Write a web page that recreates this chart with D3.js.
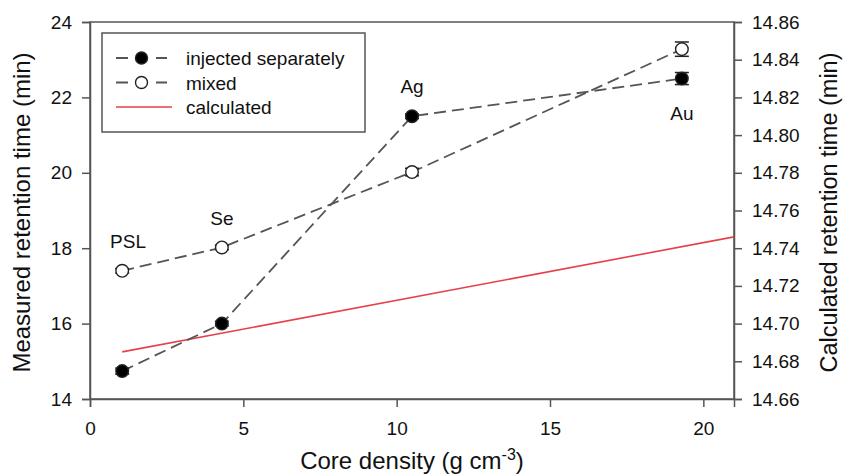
<!DOCTYPE html>
<html><head><meta charset="utf-8">
<script src="https://cdn.jsdelivr.net/npm/d3@7"></script>
<style>body{margin:0;background:#fff}svg{display:block}text{font-family:"Liberation Sans",Arial,sans-serif;fill:#111}</style>
</head><body><svg id="c" width="844" height="475"></svg>
<script>
const densities = [1.05, 4.3, 10.5, 19.3];
const labels = ["PSL", "Se", "Ag", "Au"];
const injected = [14.74, 16.0, 21.5, 22.5];
const injectedErr = [0.08, 0.06, 0.06, 0.16];
const mixed = [17.4, 18.02, 20.02, 23.28];
const mixedErr = [0.06, 0.06, 0.1, 0.19];
const calcX = [1.05, 21];
const calcY = [14.685, 14.746];
const xTicks = [0, 5, 10, 15, 20];
const yTicks = [14, 16, 18, 20, 22, 24];
const y2Ticks = [14.66, 14.68, 14.70, 14.72, 14.74, 14.76, 14.78, 14.80, 14.82, 14.84, 14.86];
const labelX = [1.24, 4.3, 10.5, 19.3];
const labelY = [18.0, 18.62, 22.12, 21.4];

const svg = d3.select("#c");
const L = 90, R = 734, T = 22, B = 399;
const x = d3.scaleLinear().domain([0, 21]).range([L, R]);
const y = d3.scaleLinear().domain([14, 24]).range([B, T]);
const y2 = d3.scaleLinear().domain([14.66, 14.86]).range([B, T]);
const ax = "#555";

// frame
svg.append("rect").attr("x", L).attr("y", T).attr("width", R - L).attr("height", B - T)
  .attr("fill", "none").attr("stroke", ax).attr("stroke-width", 1.5);

const gx = svg.append("g").attr("transform", `translate(0,${B})`)
  .call(d3.axisBottom(x).tickValues(xTicks).tickSize(8).tickPadding(15).tickFormat(d3.format("d")));
const gy = svg.append("g").attr("transform", `translate(${L},0)`)
  .call(d3.axisLeft(y).tickValues(yTicks).tickSize(8).tickPadding(10).tickFormat(d3.format("d")));
const gy2 = svg.append("g").attr("transform", `translate(${R},0)`)
  .call(d3.axisRight(y2).tickValues(y2Ticks).tickSize(8).tickPadding(10).tickFormat(d3.format(".2f")));
[gx, gy, gy2].forEach(g => {
  g.select(".domain").attr("stroke", ax).attr("stroke-width", 1.5);
  g.selectAll(".tick line").attr("stroke", ax).attr("stroke-width", 1.5);
  g.selectAll(".tick text").attr("font-size", 19).attr("fill", "#111")
    .attr("font-family", "'Liberation Sans',Arial,sans-serif");
});

// calculated line
svg.append("path").datum(calcX.map((d, i) => [d, calcY[i]]))
  .attr("d", d3.line().x(d => x(d[0])).y(d => y2(d[1])))
  .attr("fill", "none").attr("stroke", "#e8404a").attr("stroke-width", 1.6);

function series(vals, errs, fill) {
  const pts = densities.map((d, i) => [d, vals[i], errs[i]]);
  svg.append("path").datum(pts)
    .attr("d", d3.line().x(d => x(d[0])).y(d => y(d[1])))
    .attr("fill", "none").attr("stroke", "#555").attr("stroke-width", 1.8)
    .attr("stroke-dasharray", "12,6");
  const g = svg.append("g");
  pts.forEach(p => {
    const cx = x(p[0]), y0 = y(p[1] - p[2]), y1 = y(p[1] + p[2]);
    g.append("line").attr("x1", cx).attr("x2", cx).attr("y1", y0).attr("y2", y1).attr("stroke", "#222").attr("stroke-width", 1.5);
    [y0, y1].forEach(yy => g.append("line").attr("x1", cx - 7).attr("x2", cx + 7).attr("y1", yy).attr("y2", yy).attr("stroke", "#222").attr("stroke-width", 1.5));
    g.append("circle").attr("cx", cx).attr("cy", y(p[1])).attr("r", 6.3)
      .attr("fill", fill).attr("stroke", "#222").attr("stroke-width", 1.4);
  });
}
series(mixed, mixedErr, "#fff");
series(injected, injectedErr, "#000");

// point labels
labels.forEach((t, i) => {
  svg.append("text").attr("x", x(labelX[i])).attr("y", y(labelY[i]))
    .attr("text-anchor", "middle").attr("font-size", 19).text(t);
});

// legend
svg.append("rect").attr("x", 102).attr("y", 33).attr("width", 263).attr("height", 99)
  .attr("fill", "#fff").attr("stroke", ax).attr("stroke-width", 1.5);
const leg = [
  {t: "injected separately", type: "dash", fill: "#000"},
  {t: "mixed", type: "dash", fill: "#fff"},
  {t: "calculated", type: "red"}
];
leg.forEach((e, i) => {
  const yy = 58 + i * 24.5;
  if (e.type === "dash") {
    svg.append("line").attr("x1", 116).attr("x2", 167).attr("y1", yy).attr("y2", yy)
      .attr("stroke", "#555").attr("stroke-width", 1.8).attr("stroke-dasharray", "12,8");
    svg.append("circle").attr("cx", 141.5).attr("cy", yy).attr("r", 6)
      .attr("fill", e.fill).attr("stroke", "#222").attr("stroke-width", 1.4);
  } else {
    svg.append("line").attr("x1", 116).attr("x2", 172).attr("y1", yy).attr("y2", yy)
      .attr("stroke", "#e8404a").attr("stroke-width", 1.6);
  }
  svg.append("text").attr("x", 186).attr("y", yy + 7).attr("font-size", 19).text(e.t);
});

// axis titles
svg.append("text").attr("transform", `translate(30,${(T + B) / 2 + 2}) rotate(-90)`)
  .attr("text-anchor", "middle").attr("font-size", 24).text("Measured retention time (min)");
svg.append("text").attr("transform", `translate(837,${(T + B) / 2 + 2}) rotate(-90)`)
  .attr("text-anchor", "middle").attr("font-size", 23.5).text("Calculated retention time (min)");
const xt = svg.append("text").attr("x", (L + R) / 2).attr("y", 469).attr("text-anchor", "middle").attr("font-size", 24);
xt.append("tspan").text("Core density (g cm");
xt.append("tspan").attr("dy", -9).attr("font-size", 16).text("-3");
xt.append("tspan").attr("dy", 9).text(")");
</script></body></html>
